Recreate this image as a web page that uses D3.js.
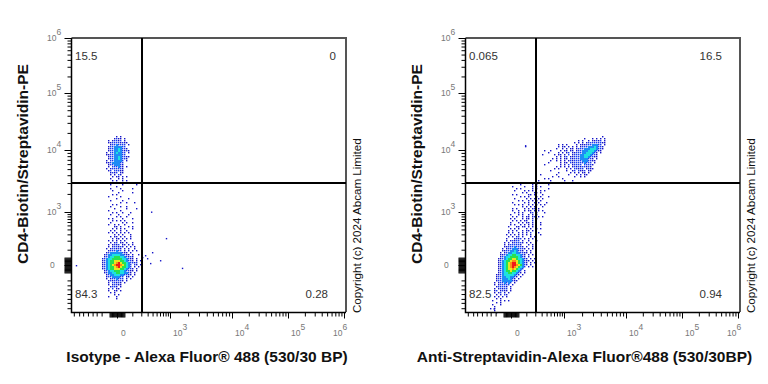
<!DOCTYPE html>
<html>
<head>
<meta charset="utf-8">
<script src="https://cdnjs.cloudflare.com/ajax/libs/d3/7.8.5/d3.min.js"></script>
<style>
  body { margin: 0; background: #fff; }
  svg { display: block; font-family: "Liberation Sans", Arial, sans-serif; }
  .axis path { display: none; }
  .axis line { stroke: #000; stroke-width: 1; }
</style>
</head>
<body>
<div id="chart-area"></div>
<script>
// axis values
let majorTicks = [0, 1e3, 1e4, 1e5, 1e6];
let majorLabels = ["0", "3", "4", "5", "6"];
let zeroBandTicks = [-40, -35, -30, -25, -20, -15, -10, -5, 0, 5, 10, 15, 20, 25, 30, 35, 40];
let minorTicks = [-600, -450, -360, -270, -200, -150, -100,
    100, 200, 300, 400, 500, 600, 700, 800, 900,
    2e3, 3e3, 4e3, 5e3, 6e3, 7e3, 8e3, 9e3,
    2e4, 3e4, 4e4, 5e4, 6e4, 7e4, 8e4, 9e4,
    2e5, 3e5, 4e5, 5e5, 6e5, 7e5, 8e5, 9e5];

// titles and quadrant percentages
let yTitle = "CD4-Biotin/Streptavidin-PE";
let xTitles = ["Isotype - Alexa Fluor® 488 (530/30 BP)", "Anti-Streptavidin-Alexa Fluor®488 (530/30BP)"];
let copyright = "Copyright (c) 2024 Abcam Limited";
let quadrantsLeft = ["15.5", "0", "84.3", "0.28"];
let quadrantsRight = ["0.065", "16.5", "82.5", "0.94"];

// gate thresholds
let gateX = 210;
let gateY = 3000;

// single events outside the dense clouds [x, y]
let eventsLeft = [[254, 57], [288, 37], [210, 44], [386, 80], [598, 25], [345, 10], [810, 240],
    [1580, -13], [365, 1020], [-540, 0]];
let eventsRight = [[88, 12200], [88, 11800], [200, 11000], [-120, -600]];

// density levels per 2px cell, . is empty, 8 is the hottest
let densityLeft = [
"",
"........1.1",
".......1211.1",
"....1.12212.1",
"....1122221211",
".....12232222.1",
"....122333322",
"....1223343221",
"....12233432121",
"...1.22343322.1",
"...1122333322",
"....12233432211",
"....1223343221",
"...1.2233332.1",
"...112333322",
"....12233321",
"....1.222321.1",
"...1.1222221",
"....12.22211",
".....1212.11",
".....1.1.21",
"......1.11.1.1",
".....1...1.1",
"......1.1..1.1",
"",
".....1.....1......1",
"........1",
".....1....1.....1",
"......1....1",
".........1......1",
"......1.1...",
"....1.....1......",
"........1.....1",
".....1.....1",
"..........1..1...1",
"......1.1",
".....1....1..1",
".......1.....1....1",
"....1.....1",
"......1.1..1...1",
".....1...1....1",
"........1.1..1",
"....1.1....1....1",
"......1.1.1.1",
".....1.....1.1..1",
"....1..1.1..1",
".......11.1...1.1",
"......1.1.1.1...1",
".....1.1..1..1",
"....1.1.1.1.1.1",
".......1.1.1...1",
".....1.11.1.1..1",
"......1.11.1.1.1",
"....1.1.1.1.1",
".....1.12.11.1..1",
"....1.1212.11.1.1",
"....1.122121.1.1.1",
"...1.122121.1.1..1",
"....1222322.1.1.1.1",
"...12333333211.1",
"..1233444433211.1..1",
"..123445554432121",
".1234455555443211.1",
".1234556665543221.1.1",
".123455678655432212",
".123456788765432.21.1",
".123455678655432.1.1",
".1234556665543221.1",
"..123445554432211.1",
"..12334455443321.1",
"...1233444332211.1",
"...122333322.11.1",
"...1.1223222.1.1",
"....12122221.1",
"....1.22121.1",
"....1.12211",
".....1221.1",
"....1.2.11",
"....1..11.1",
".....1.1",
".......1.1",
"....1...1",
"........1"
];

let densityRightUpper = [
".................................1",
"........................1...1.1.1.1",
".....................1.1..1.11212.1",
"...................1.1.1.1222222211",
"...........1.1.1....1.11122233322.1",
"...........1.11.1.1.1.122233343221",
"..........1..1.1.11.12223334443221",
"....1..1....1.11.11.1223334443211",
"......1....1.1.12.1122233444321.1",
"...1.....1.11.1.2.1222334443221",
"..........1.1.12.11222334432211",
"........1.1.1.11.212223333221.1",
".......1..1.1.1.12122223332211",
"......1.....1.11.21222223222.1",
"....1.......1.1.2.12222.22221",
"..........1.1.1.1.1212122121",
".........1.1...1.1.22122.1211",
".......1.......1..12.2112.11",
"...........1.....1.1.1.11.1",
"..1.......1.....1...1.1.11",
"........1..1.......1..1.1",
"....1.1......1",
".1.....1......1...1"
];

let densityRightLower = [
"...............1.....1.1.....1",
"...........1.....1...1.1.1",
".............1.1.....1.1.....1",
"............1....1.1.1...1.1",
"................1.1...11.1",
"...........1.1.....11.1...1",
"...............1.1.1...1.1...1",
"............1.....1.1.1.1.1",
"..............1.1..1.1.1.1",
"...........1.....1.1..1.1...1",
"............1.1.1..1.1.2.1.1",
"................1.1.1.1...1",
"...........1.1...1.1.12.1",
"...........1..1..1.11.1.1.1",
"............1.1.1...12.1...1",
"..........1...1.1..1.1.1",
"...........1.1..1.11.12.1.1",
"..........1.1...1.11.1.1",
"...........1.1.1.11..2",
"..........1...1.1.11.1...1",
"..........1.1..1.1.1.1...1",
".........1...11.11.1.1",
"..........1.1.1...1.1..1.1",
".........1.1.1..1.11.1",
".........1.1..1.1.1.2...1",
"........1.1.1.1.1.1.1....1",
".........1.1.12.1...1.1",
"........1...1212.1.1.1",
"........1.12122.1..1...1",
".......1.1.122221.1.1",
".......1.1222221...1.1",
".......1122232221.1..1",
"......1.1223332221.1.1",
"......11223343221.1.1",
".....1.123344332211.1",
".....1123445544321.1.1",
".....1234455554321.1",
"....112345566544321.1.1",
"....1234556776543211.1",
"....123456788654321.1.1",
"....123456788765321.1",
"....12345678765432.1.1",
"....1234566765432",
"....123455655432.1",
"....123445544321.1",
"...112344444321.1",
"...12233443321.1",
"...1223334321.1",
"...12233333211",
"..1.1223232.1",
"..1.122222.1",
"...122221.1",
"..1.12122.1",
"..12.1211.1",
"..1.12.1.1",
"...1.1.21",
"..1.1.1.1",
"...1.1",
".1...1.1.1",
"...1.1",
".1...1",
"..1",
"1.1",
"..1",
"...1"
];

let levelColors = ["#fff", "#1414c8", "#1a3cf0", "#1e8cf5", "#1ee0e0", "#28e050", "#e8e820", "#f89018", "#f01818"];

let svg = d3.select("#chart-area")
    .append("svg")
    .attr("width", 768)
    .attr("height", 384);

// log above the zero region, the picture's axis is biexponential
function transform(v) {
    return Math.sign(v) * Math.log10(1 + Math.abs(v) / 100);
}

let xBreaks = [-694].concat(majorTicks).map(transform);
let yBreaks = [-730].concat(majorTicks).map(transform);

let colorScale = d3.scaleOrdinal().domain(d3.range(9)).range(levelColors);

function drawCells(g, rows, left, top) {
    let col = d3.scaleLinear().domain([0, 1]).range([left, left + 2]);
    let row = d3.scaleLinear().domain([0, 1]).range([top, top + 2]);
    let cells = [];
    rows.forEach(function(s, r) {
        s.split("").forEach(function(ch, c) {
            if (ch !== ".") cells.push({c: c, r: r, level: +ch});
        });
    });
    g.append("g").selectAll("rect")
        .data(cells)
        .enter().append("rect")
        .attr("x", function(d) { return col(d.c); })
        .attr("y", function(d) { return row(d.r); })
        .attr("width", function(d) { return d.level > 2 ? 2 : 1.4; })
        .attr("height", function(d) { return d.level > 2 ? 2 : 1.4; })
        .attr("fill", function(d) { return colorScale(d.level); });
}

function drawPanel(p) {
    let g = svg.append("g").attr("transform", "translate(" + p.dx + ",0)");

    let x = d3.scaleLinear().domain(xBreaks).range([71, 117, 170, 232, 288, 344]);
    let y = d3.scaleLinear().domain(yBreaks).range([312, 265, 212, 150, 93, 38]);

    // dense clouds and single events
    p.grids.forEach(function(d) { drawCells(g, d.rows, d.left, d.top); });
    g.append("g").selectAll("rect")
        .data(p.events)
        .enter().append("rect")
        .attr("x", function(d) { return x(transform(d[0])); })
        .attr("y", function(d) { return y(transform(d[1])); })
        .attr("width", 1.4)
        .attr("height", 1.4)
        .attr("fill", "#1414c8");

    // frame
    g.append("path").attr("d", "M71.5,38H346V312").attr("fill", "none").attr("stroke", "#555").attr("stroke-width", 2);
    g.append("path").attr("d", "M71.5,38V312.5H346").attr("fill", "none").attr("stroke", "#000").attr("stroke-width", 1.5);

    // gates
    g.append("line").attr("x1", x(transform(gateX))).attr("x2", x(transform(gateX)))
        .attr("y1", 38).attr("y2", 312).attr("stroke", "#000").attr("stroke-width", 2);
    g.append("line").attr("x1", 71).attr("x2", 346)
        .attr("y1", y(transform(gateY))).attr("y2", y(transform(gateY))).attr("stroke", "#000").attr("stroke-width", 2);

    // axes, scale gets transformed values so ticks are wrapped
    function ticks(scale, axisFn, values, size, shift) {
        let a = axisFn(scale).tickValues(values.map(transform)).tickSize(size).tickFormat("");
        g.append("g").attr("class", "axis").attr("transform", shift).call(a);
    }
    let bottom = "translate(0,312.5)";
    let left = "translate(71.5,0)";
    ticks(x, d3.axisBottom, majorTicks, 6, bottom);
    ticks(x, d3.axisBottom, minorTicks, 4, bottom);
    ticks(x, d3.axisBottom, zeroBandTicks, 5, bottom);
    ticks(y, d3.axisLeft, majorTicks, 7, left);
    ticks(y, d3.axisLeft, minorTicks, 4, left);
    ticks(y, d3.axisLeft, zeroBandTicks, 7, left);

    // tick labels
    majorTicks.forEach(function(v, i) {
        let lx = i == 0 ? x(transform(v)) + 4 : (i == 4 ? x(transform(v)) - 11 : x(transform(v)) + 3);
        let t = g.append("text").attr("x", lx).attr("y", 336).attr("font-size", 8.5).attr("fill", "#777");
        if (i == 0) {
            t.text("0");
        } else {
            t.text("10");
            t.append("tspan").attr("dy", -6).text(majorLabels[i]);
        }
        let ty = g.append("text").attr("y", y(transform(v)) + 3).attr("font-size", 8.5).attr("fill", "#777");
        if (i == 0) {
            ty.attr("x", 50).text("0");
        } else {
            ty.attr("x", 47).text("10");
            ty.append("tspan").attr("dy", -6).text(majorLabels[i]);
        }
    });

    // quadrant percentages
    let pos = [[75, 60, "start"], [p.topRightX, 60, "end"], [75, 298, "start"], [328, 298, "end"]];
    p.quadrants.forEach(function(q, i) {
        g.append("text").attr("x", pos[i][0]).attr("y", pos[i][1]).attr("text-anchor", pos[i][2])
            .attr("font-size", 11.5).attr("fill", "#333").text(q);
    });

    // titles
    g.append("text").attr("transform", "translate(28,164) rotate(-90)").attr("text-anchor", "middle")
        .attr("font-size", 15.5).attr("font-weight", "bold").attr("fill", "#111").text(yTitle);
    g.append("text").attr("x", p.titleX).attr("y", 362).attr("text-anchor", "middle")
        .attr("font-size", 15.5).attr("font-weight", "bold").attr("fill", "#111").text(p.title);
    g.append("text").attr("transform", "translate(361,313) rotate(-90)")
        .attr("font-size", 11.6).attr("fill", "#111").text(copyright);
}

drawPanel({
    dx: 0,
    title: xTitles[0],
    titleX: 207,
    topRightX: 336,
    quadrants: quadrantsLeft,
    events: eventsLeft,
    grids: [{rows: densityLeft, left: 100, top: 134}]
});

drawPanel({
    dx: 394,
    title: xTitles[1],
    titleX: 190.5,
    topRightX: 328,
    quadrants: quadrantsRight,
    events: eventsRight,
    grids: [{rows: densityRightUpper, left: 142, top: 136}, {rows: densityRightLower, left: 96, top: 184}]
});
</script>
</body>
</html>
